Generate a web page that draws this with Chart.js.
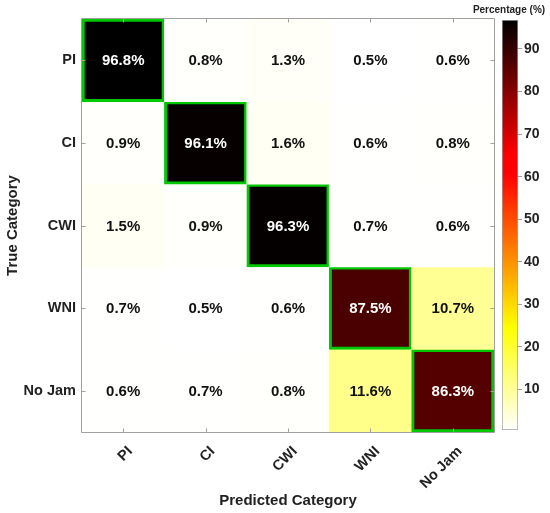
<!DOCTYPE html>
<html lang="en">
<head>
<meta charset="UTF-8">
<title>Matriz de confusão</title>
<script src="https://cdn.jsdelivr.net/npm/chart.js"></script>
<style>
    body { margin: 0; background: #fff; }
    #quadro { position: relative; width: 550px; height: 513px; }
    #matriz { position: absolute; left: 0; top: 0; width: 550px; height: 513px; }
    #barra { position: absolute; left: 470px; top: 0; width: 80px; height: 513px; }
</style>
</head>
<body>
<div id="quadro">
    <div id="matriz"><canvas id="chartMatriz"></canvas></div>
    <div id="barra"><canvas id="chartBarra"></canvas></div>
</div>
<script>
    // categorias e valores (%)
    const predicted = ['PI', 'CI', 'CWI', 'WNI', 'No Jam'];
    const trueCats = ['PI', 'CI', 'CWI', 'WNI', 'No Jam'];
    const pctPI = [96.8, 0.8, 1.3, 0.5, 0.6];
    const pctCI = [0.9, 96.1, 1.6, 0.6, 0.8];
    const pctCWI = [1.5, 0.9, 96.3, 0.7, 0.6];
    const pctWNI = [0.7, 0.5, 0.6, 87.5, 10.7];
    const pctNoJam = [0.6, 0.7, 0.8, 11.6, 86.3];
    const barTicks = [10, 20, 30, 40, 50, 60, 70, 80, 90];

    const rows = [pctPI, pctCI, pctCWI, pctWNI, pctNoJam];
    const todos = rows.flat();
    const cMin = Math.min(...todos);
    const cMax = Math.max(...todos);

    const fonte = 'Arial, "Liberation Sans", sans-serif';
    const cinza = '#a0a0a0';
    const texto = '#222';

    // colormap "hot" invertido (branco -> amarelo -> vermelho -> preto)
    function corDe(v) {
        const s = 1 - (v - cMin) / (cMax - cMin);
        const lim = (a) => Math.max(0, Math.min(1, a));
        const r = lim(s / 0.33);
        const g = lim((s - 0.375) / 0.375);
        const b = lim((s - 0.75) / 0.25);
        return `rgb(${Math.round(r * 255)}, ${Math.round(g * 255)}, ${Math.round(b * 255)})`;
    }

    const rotulos = {
        id: 'rotulos',
        afterDatasetsDraw(chart) {
            const ctx = chart.ctx;
            ctx.save();
            ctx.font = 'bold 15px ' + fonte;
            ctx.textAlign = 'center';
            ctx.textBaseline = 'middle';
            chart.data.datasets.forEach((ds, i) => {
                chart.getDatasetMeta(i).data.forEach((bar, j) => {
                    const v = ds.pct[j];
                    ctx.fillStyle = v > 50 ? '#fff' : '#111';
                    ctx.fillText(v.toFixed(1) + '%', bar.x, (bar.y + bar.base) / 2 + 1);
                });
            });
            ctx.restore();
        }
    };

    // caixa em volta e ticks para dentro, como no matlab
    const moldura = {
        id: 'moldura',
        afterDatasetsDraw(chart) {
            const { ctx, chartArea: a, scales: { x, y } } = chart;
            ctx.save();
            ctx.strokeStyle = cinza;
            ctx.lineWidth = 1;
            ctx.beginPath();
            const l = a.left - 0.5, r = a.right + 0.5, t = a.top - 0.5, b = a.bottom + 0.5;
            ctx.moveTo(l, t); ctx.lineTo(r, t); ctx.lineTo(r, b); ctx.lineTo(l, b); ctx.closePath();
            x.ticks.forEach((tk, i) => {
                const px = Math.round(x.getPixelForTick(i)) + 0.5;
                ctx.moveTo(px, b); ctx.lineTo(px, b - 4);
                ctx.moveTo(px, t); ctx.lineTo(px, t + 4);
            });
            y.ticks.forEach((tk, i) => {
                const py = Math.round(y.getPixelForTick(i)) + 0.5;
                ctx.moveTo(l, py); ctx.lineTo(l + 4, py);
                ctx.moveTo(r, py); ctx.lineTo(r - 4, py);
            });
            ctx.stroke();
            ctx.restore();
        }
    };

    const datasets = rows.map((row, i) => ({
        label: trueCats[i],
        data: row.map(() => 1),
        pct: row,
        backgroundColor: row.map(corDe),
        borderColor: row.map((v, j) => j === i ? '#00c800' : 'rgba(0,0,0,0)'),
        borderWidth: row.map((v, j) => j === i ? 3 : 0),
        borderSkipped: false,
        barPercentage: 1,
        categoryPercentage: 1,
        stack: 'm'
    }));

    const matriz = new Chart(document.getElementById('chartMatriz'), {
        type: 'bar',
        data: { labels: predicted, datasets: datasets },
        options: {
            responsive: true,
            maintainAspectRatio: false,
            animation: false,
            layout: { padding: { left: 0, top: 19, right: 56, bottom: 0 } },
            plugins: { legend: { display: false }, tooltip: { enabled: false } },
            scales: {
                x: {
                    stacked: true,
                    grid: { display: false, drawTicks: false },
                    border: { display: false },
                    ticks: {
                        autoSkip: false, maxRotation: 45, minRotation: 45, padding: 11, labelOffset: 7,
                        color: texto, font: { family: fonte, size: 14.5, weight: 'bold' }
                    },
                    title: {
                        display: true, text: 'Predicted Category', color: texto, padding: 3,
                        font: { family: fonte, size: 15, weight: 'bold' }
                    },
                    afterFit(s) { s.height = 81; }
                },
                y: {
                    stacked: true,
                    reverse: true,
                    min: 0,
                    max: 5,
                    grid: { display: false, drawTicks: false },
                    border: { display: false },
                    afterBuildTicks(s) { s.ticks = trueCats.map((c, i) => ({ value: i + 0.5 })); },
                    ticks: {
                        padding: 6, color: texto,
                        font: { family: fonte, size: 14.5, weight: 'bold' },
                        callback: (v) => trueCats[Math.floor(v)]
                    },
                    title: {
                        display: true, text: 'True Category', color: texto, padding: 4,
                        font: { family: fonte, size: 15, weight: 'bold' }
                    },
                    afterFit(s) { s.width = 82; }
                }
            }
        },
        plugins: [rotulos, moldura]
    });

    // barra de cores
    function gradiente(chart) {
        const area = chart.chartArea;
        if (!area || !isFinite(area.top) || !isFinite(area.bottom)) return corDe(cMax);
        const g = chart.ctx.createLinearGradient(0, area.bottom, 0, area.top);
        for (let k = 0; k <= 64; k++) {
            g.addColorStop(k / 64, corDe(cMin + (cMax - cMin) * k / 64));
        }
        return g;
    }

    const tituloBarra = {
        id: 'tituloBarra',
        afterDraw(chart) {
            const ctx = chart.ctx;
            ctx.save();
            ctx.font = 'bold 10px ' + fonte;
            ctx.fillStyle = texto;
            ctx.textAlign = 'center';
            ctx.textBaseline = 'middle';
            ctx.fillText('Percentage (%)', 39, 10);
            ctx.restore();
        }
    };

    const barra = new Chart(document.getElementById('chartBarra'), {
        type: 'bar',
        data: {
            labels: [''],
            datasets: [{
                data: [[cMin, cMax]],
                backgroundColor: (c) => gradiente(c.chart),
                borderColor: cinza,
                borderWidth: 1,
                borderSkipped: false,
                barPercentage: 1,
                categoryPercentage: 1
            }]
        },
        options: {
            responsive: true,
            maintainAspectRatio: false,
            animation: false,
            layout: { padding: { left: 32, top: 20, right: 0, bottom: 83 } },
            plugins: { legend: { display: false }, tooltip: { enabled: false } },
            scales: {
                x: { display: false },
                y: {
                    position: 'right',
                    min: cMin,
                    max: cMax,
                    afterBuildTicks(s) { s.ticks = barTicks.map(v => ({ value: v })); },
                    grid: { display: true, drawOnChartArea: false, drawTicks: true, tickLength: 4, color: cinza },
                    border: { display: false },
                    ticks: { padding: 2, color: texto, font: { family: fonte, size: 14, weight: 'bold' } },
                    afterFit(s) { s.width = 32; }
                }
            }
        },
        plugins: [tituloBarra]
    });
    barra.update();
</script>
</body>
</html>
